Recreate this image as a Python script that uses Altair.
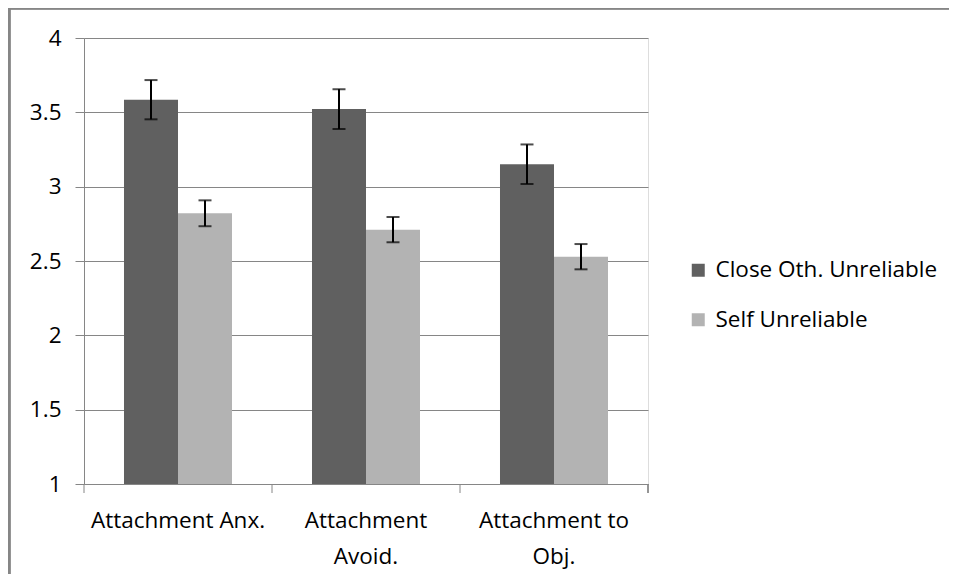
import altair as alt
import pandas as pd

categories = ["Attachment Anx.", "Attachment Avoid.", "Attachment to Obj."]
series = ["Close Oth. Unreliable", "Self Unreliable"]
close_vals = [3.585, 3.522, 3.151]
close_err = [0.132, 0.134, 0.133]
self_vals = [2.821, 2.711, 2.529]
self_err = [0.087, 0.085, 0.085]
colors = ["#606060", "#b3b3b3"]
y_ticks = [1, 1.5, 2, 2.5, 3, 3.5, 4]

rows = []
for i, c in enumerate(categories):
    rows.append(dict(category=c, series=series[0], value=close_vals[i],
                     lo=close_vals[i] - close_err[i], hi=close_vals[i] + close_err[i]))
    rows.append(dict(category=c, series=series[1], value=self_vals[i],
                     lo=self_vals[i] - self_err[i], hi=self_vals[i] + self_err[i]))
df = pd.DataFrame(rows)
cat_df = pd.DataFrame({"category": categories})

W, H = 564, 446
FONT = "Open Sans"
FS = 22.5
GRID = "#868686"

label_expr = ("datum.value == 'Attachment Avoid.' ? ['Attachment', 'Avoid.'] : "
              "datum.value == 'Attachment to Obj.' ? ['Attachment to', 'Obj.'] : datum.label")

xscale = alt.Scale(paddingInner=0, paddingOuter=0)
xaxis = alt.Axis(title=None, labelAngle=0, ticks=False, tickSize=0,
                 labelPadding=25, labelFontSize=FS, labelFont=FONT,
                 labelColor="black", labelLineHeight=36, labelLimit=0,
                 labelExpr=label_expr,
                 domainColor=GRID, domainWidth=1, grid=False)
xenc = alt.X("category:N", sort=categories, scale=xscale, axis=xaxis)
xoff = alt.XOffset("series:N", sort=series,
                   scale=alt.Scale(paddingInner=0, paddingOuter=0.7407))
yscale = alt.Scale(domain=[1, 4], nice=False, zero=False)
yaxis = alt.Axis(title=None, values=y_ticks, format="~g", tickSize=9,
                 tickColor=GRID, domainColor=GRID, gridColor=GRID,
                 gridWidth=1, labelFontSize=FS, labelFont=FONT,
                 labelColor="black", labelPadding=14)
yenc = alt.Y("value:Q", scale=yscale, axis=yaxis)

base = alt.Chart(df)

bars = base.mark_bar().encode(
    x=xenc, xOffset=xoff, y=yenc, y2=alt.datum(1),
    color=alt.Color("series:N", sort=series,
                    scale=alt.Scale(domain=series, range=colors),
                    legend=alt.Legend(title=None, orient="none", legendX=603, legendY=221,
                                      symbolType="square", symbolSize=169,
                                      symbolStrokeWidth=0, labelFontSize=FS,
                                      labelFont=FONT, labelColor="black", labelLimit=0,
                                      rowPadding=26.5, labelOffset=6, padding=0)),
)

err_line = base.mark_rule(color="black", strokeWidth=2).encode(
    x=xenc, xOffset=xoff,
    y=alt.Y("lo:Q", scale=yscale, axis=yaxis), y2="hi:Q")
cap_hi = base.mark_tick(color="black", thickness=2, size=13).encode(
    x=xenc, xOffset=xoff,
    y=alt.Y("hi:Q", scale=yscale, axis=yaxis))
cap_lo = base.mark_tick(color="black", thickness=2, size=13).encode(
    x=xenc, xOffset=xoff,
    y=alt.Y("lo:Q", scale=yscale, axis=yaxis))

xticks = alt.Chart(cat_df).mark_rule(color=GRID, strokeWidth=1).encode(
    x=alt.X("category:N", sort=categories, scale=xscale, axis=xaxis, bandPosition=0),
    y=alt.value(H), y2=alt.value(H + 9))
end_tick = alt.Chart(cat_df).mark_rule(color=GRID, strokeWidth=1).encode(
    x=alt.value(W), y=alt.value(H), y2=alt.value(H + 9))

frame_left = alt.Chart(cat_df).mark_rule(color=GRID, strokeWidth=3).encode(
    x=alt.value(-75), y=alt.value(-31), y2=alt.value(H + 200))
frame_top = alt.Chart(cat_df).mark_rule(color=GRID, strokeWidth=2).encode(
    x=alt.value(-80), x2=alt.value(W + 400), y=alt.value(-29.5))

chart = alt.layer(frame_left, frame_top, bars, err_line, cap_hi, cap_lo, xticks, end_tick).properties(
    width=W, height=H,
    autosize=alt.AutoSizeParams(type="none"),
    padding={"left": 76, "top": 30, "right": 301, "bottom": 90},
).configure_view(strokeOpacity=0, strokeWidth=0).configure(font=FONT)

chart.save("out.html", embed_options={"renderer": "svg", "actions": False})
